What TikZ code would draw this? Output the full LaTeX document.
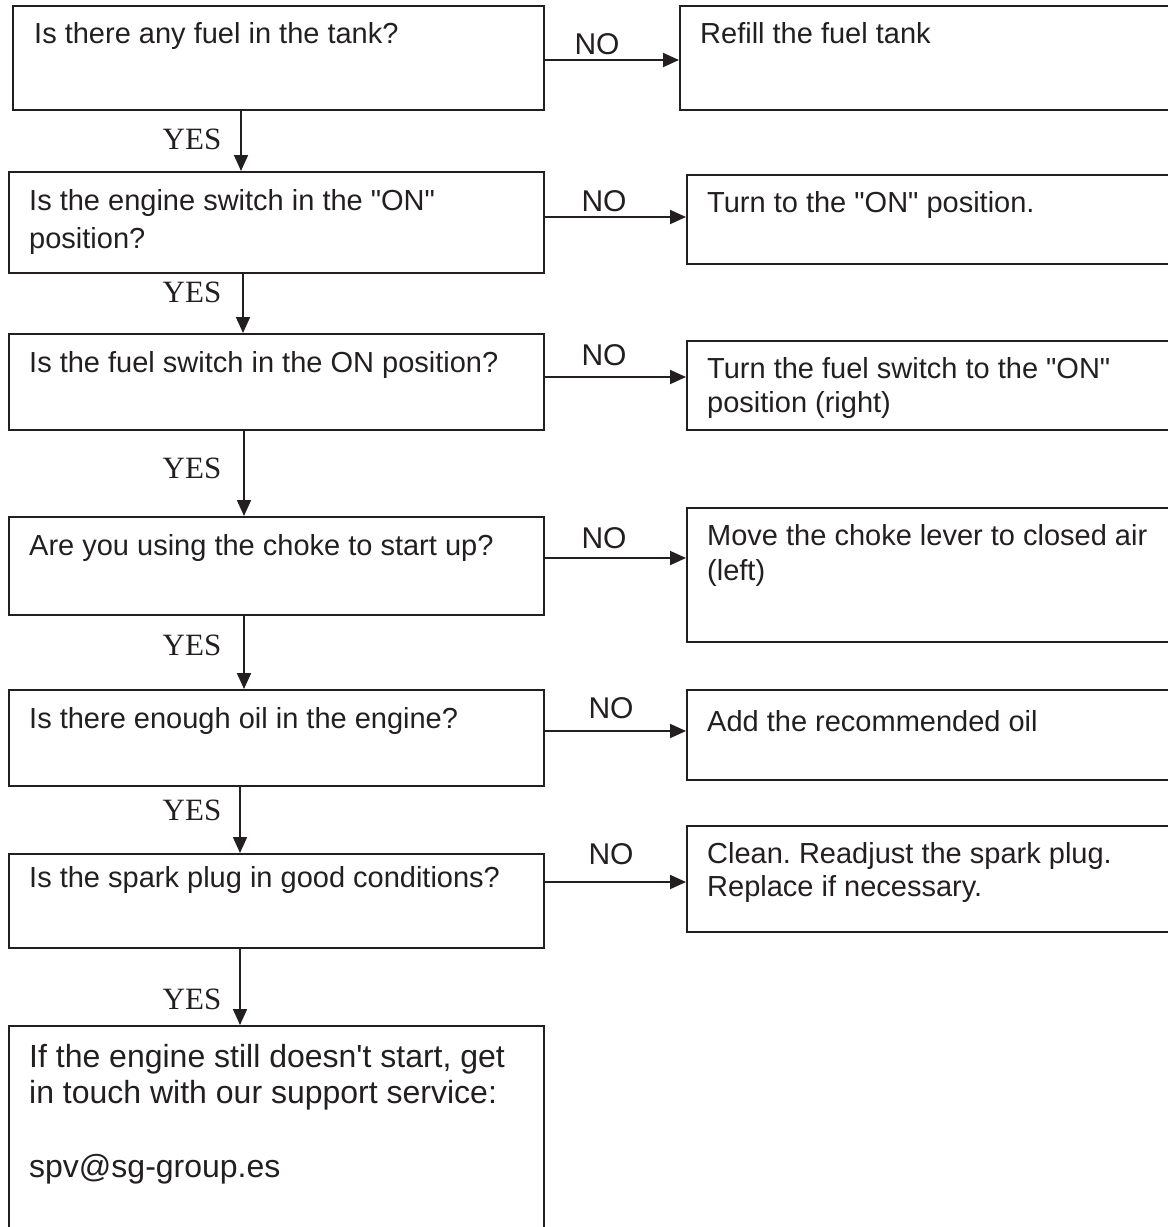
\documentclass[tikz,border=0pt]{standalone}
\usepackage{fontspec}
\setmainfont[Ligatures=TeXOff]{Liberation Sans}
\newfontfamily\yesfont{Liberation Serif}
\usetikzlibrary{arrows.meta}
\definecolor{ink}{HTML}{231F20}
\frenchspacing
\tikzset{
  box/.style={draw=ink, line width=1.8pt, rectangle, inner sep=0pt, anchor=north west},
  txt/.style={inner sep=0pt, anchor=base west, text=ink, font=\fontsize{29}{34}\selectfont},
  bigtxt/.style={inner sep=0pt, anchor=base west, text=ink, font=\fontsize{32}{36}\selectfont},
  nolab/.style={inner sep=0pt, anchor=base, text=ink, font=\fontsize{30}{34}\selectfont},
  yeslab/.style={inner sep=0pt, anchor=base, text=ink, font=\yesfont\fontsize{31}{34}\selectfont},
  arr/.style={draw=ink, line width=1.8pt, -{Triangle[length=16pt,width=14pt]}}
}
\begin{document}
\begin{tikzpicture}[x=1pt,y=-1pt]
\useasboundingbox (0,0) rectangle (1168,1227);
\clip (0,0) rectangle (1168,1227);
% left question boxes
\node[box, minimum width=531, minimum height=104] (q1) at (12,5) {};
\node[box, minimum width=535, minimum height=101] (q2) at (8,171) {};
\node[box, minimum width=535, minimum height=96] (q3) at (8,333) {};
\node[box, minimum width=535, minimum height=98] (q4) at (8,516) {};
\node[box, minimum width=535, minimum height=96] (q5) at (8,689) {};
\node[box, minimum width=535, minimum height=94] (q6) at (8,853) {};
\node[box, minimum width=535, minimum height=240] (q7) at (8,1025) {};
% right answer boxes
\node[box, minimum width=520, minimum height=104] (a1) at (679,5) {};
\node[box, minimum width=520, minimum height=89] (a2) at (686,174) {};
\node[box, minimum width=520, minimum height=89] (a3) at (686,340) {};
\node[box, minimum width=520, minimum height=134] (a4) at (686,507) {};
\node[box, minimum width=520, minimum height=90] (a5) at (686,689) {};
\node[box, minimum width=520, minimum height=106] (a6) at (686,825) {};
% question texts
\node[txt] (tq1) at (34,43) {Is there any fuel in the tank?};
\node[txt] (tq2a) at (29,210) {Is the engine switch in the "ON"};
\node[txt] (tq2b) at (29,248) {position?};
\node[txt] (tq3) at (29,372) {Is the fuel switch in the ON position?};
\node[txt] (tq4) at (29,555) {Are you using the choke to start up?};
\node[txt] (tq5) at (29,728) {Is there enough oil in the engine?};
\node[txt] (tq6) at (29,887) {Is the spark plug in good conditions?};
\node[bigtxt] (tq7a) at (29,1067) {If the engine still doesn't start, get};
\node[bigtxt] (tq7b) at (29,1103) {in touch with our support service:};
\node[bigtxt] (tq7c) at (29,1177) {spv@sg-group.es};
% answer texts
\node[txt] (ta1) at (700,43) {Refill the fuel tank};
\node[txt] (ta2) at (707,212) {Turn to the "ON" position.};
\node[txt] (ta3a) at (707,378) {Turn the fuel switch to the "ON"};
\node[txt] (ta3b) at (707,412) {position (right)};
\node[txt] (ta4a) at (707,545) {Move the choke lever to closed air};
\node[txt] (ta4b) at (707,580) {(left)};
\node[txt] (ta5) at (707,731) {Add the recommended oil};
\node[txt] (ta6a) at (707,863) {Clean. Readjust the spark plug.};
\node[txt] (ta6b) at (707,896) {Replace if necessary.};
% NO connectors
\draw[arr] (q1.east |- 0,60) -- (a1.west |- 0,60);
\draw[arr] (q2.east |- 0,217) -- (a2.west |- 0,217);
\draw[arr] (q3.east |- 0,377) -- (a3.west |- 0,377);
\draw[arr] (q4.east |- 0,558) -- (a4.west |- 0,558);
\draw[arr] (q5.east |- 0,731) -- (a5.west |- 0,731);
\draw[arr] (q6.east |- 0,882) -- (a6.west |- 0,882);
% YES connectors
\draw[arr] (q1.south -| 241,0) -- (q2.north -| 241,0);
\draw[arr] (q2.south -| 243,0) -- (q3.north -| 243,0);
\draw[arr] (q3.south -| 244,0) -- (q4.north -| 244,0);
\draw[arr] (q4.south -| 244,0) -- (q5.north -| 244,0);
\draw[arr] (q5.south -| 240,0) -- (q6.north -| 240,0);
\draw[arr] (q6.south -| 240,0) -- (q7.north -| 240,0);
% NO labels
\node[nolab] (n1) at (597,54) {NO};
\node[nolab] (n2) at (604,211) {NO};
\node[nolab] (n3) at (604,365) {NO};
\node[nolab] (n4) at (604,548) {NO};
\node[nolab] (n5) at (611,718) {NO};
\node[nolab] (n6) at (611,864) {NO};
% YES labels
\node[yeslab] (y1) at (192,149) {YES};
\node[yeslab] (y2) at (192,302) {YES};
\node[yeslab] (y3) at (192,478) {YES};
\node[yeslab] (y4) at (192,655) {YES};
\node[yeslab] (y5) at (192,820) {YES};
\node[yeslab] (y6) at (192,1009) {YES};
\end{tikzpicture}
\end{document}
